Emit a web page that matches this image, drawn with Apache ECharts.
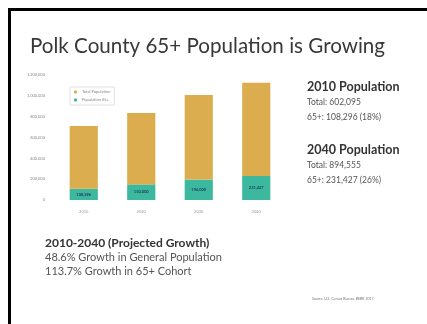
<!DOCTYPE html>
<html>
<head>
<meta charset="utf-8">
<script src="https://cdn.jsdelivr.net/npm/echarts@6/dist/echarts.min.js"></script>
<style>
html,body{margin:0;padding:0;background:#fff;}
#chart{width:427px;height:324px;}
</style>
</head>
<body>
<div id="chart"></div>
<script>
const years = ['2010', '2020', '2030', '2040'];
const totalPopulation = [602095, 686000, 812000, 894555];
const pop65 = [108296, 150000, 196000, 231427];
const yTicks = [0, 200000, 400000, 600000, 800000, 1000000, 1200000];
const seriesNames = ['Total Population', 'Population 65+'];

const FONT = 'Lato';
const chart = echarts.init(document.getElementById('chart'), null, {renderer: 'canvas'});
const fmt = v => v.toLocaleString('en-US');

chart.setOption({
  backgroundColor: '#ffffff',
  animation: false,
  textStyle: {fontFamily: FONT},
  grid: {left: 55, top: 75, width: 230, height: 125, containLabel: false},
  legend: {
    data: seriesNames,
    orient: 'vertical',
    left: 70, top: 87,
    itemWidth: 3, itemHeight: 3, itemGap: 4,
    padding: [3, 4, 3, 4],
    backgroundColor: '#fff',
    borderColor: '#e2e2e2', borderWidth: 1,
    textStyle: {fontSize: 4, color: '#888', fontFamily: FONT}
  },
  xAxis: {
    type: 'category',
    data: years,
    axisLine: {show: false},
    axisTick: {show: false},
    axisLabel: {fontSize: 4, color: '#999', margin: 10}
  },
  yAxis: {
    type: 'value',
    min: yTicks[0], max: yTicks[yTicks.length - 1], interval: yTicks[1] - yTicks[0],
    axisLine: {show: false},
    axisTick: {show: false},
    splitLine: {show: false},
    axisLabel: {fontSize: 4, color: '#888', margin: 10, formatter: v => fmt(v)}
  },
  series: [
    {
      name: seriesNames[1], type: 'bar', stack: 'p', barWidth: '49%',
      data: pop65,
      itemStyle: {color: '#3cb89f'},
      label: {show: true, position: 'inside', fontSize: 4, color: '#1e3d5c', fontWeight: 'bold',
        formatter: p => fmt(p.value)}
    },
    {
      name: seriesNames[0], type: 'bar', stack: 'p', barWidth: '49%',
      data: totalPopulation,
      itemStyle: {color: '#dcad4e'}
    }
  ],
  graphic: [
    {type: 'rect', shape: {x: 8, y: 8, width: 419, height: 3}, style: {fill: '#000'}},
    {type: 'rect', shape: {x: 8, y: 8, width: 3, height: 316}, style: {fill: '#000'}},
    {type: 'text', left: 30, top: 36, style: {text: 'Polk County 65+ Population is Growing', fontSize: 20.6, fill: '#383838', fontFamily: FONT}},
    {type: 'text', left: 307, top: 80, style: {text: '2010 Population', fontSize: 12.5, fontWeight: 'bold', fill: '#333', fontFamily: FONT}},
    {type: 'text', left: 307, top: 98, style: {text: 'Total: 602,095', fontSize: 8.5, fill: '#555', fontFamily: FONT}},
    {type: 'text', left: 307, top: 113, style: {text: '65+: 108,296 (18%)', fontSize: 8.5, fill: '#555', fontFamily: FONT}},
    {type: 'text', left: 307, top: 143, style: {text: '2040 Population', fontSize: 12.5, fontWeight: 'bold', fill: '#333', fontFamily: FONT}},
    {type: 'text', left: 307, top: 161, style: {text: 'Total: 894,555', fontSize: 8.5, fill: '#555', fontFamily: FONT}},
    {type: 'text', left: 307, top: 176, style: {text: '65+: 231,427 (26%)', fontSize: 8.5, fill: '#555', fontFamily: FONT}},
    {type: 'text', left: 45, top: 237, style: {text: '2010-2040 (Projected Growth)', fontSize: 12, fontWeight: 'bold', fill: '#333', fontFamily: FONT}},
    {type: 'text', left: 45, top: 251.5, style: {text: '48.6% Growth in General Population', fontSize: 11, fill: '#555', fontFamily: FONT}},
    {type: 'text', left: 45, top: 265.5, style: {text: '113.7% Growth in 65+ Cohort', fontSize: 11, fill: '#555', fontFamily: FONT}},
    {type: 'text', left: 312, top: 297, style: {text: 'Source: U.S. Census Bureau, BEBR 2017', fontSize: 3.5, fill: '#777', fontFamily: FONT}}
  ]
});
</script>
</body>
</html>
